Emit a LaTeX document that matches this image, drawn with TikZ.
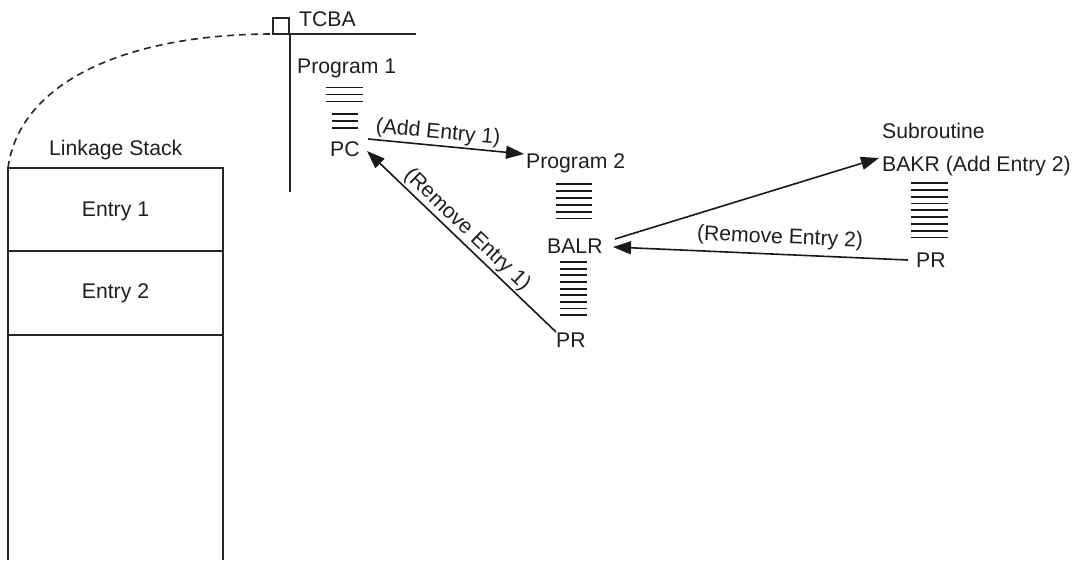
\documentclass[tikz,border=0pt]{standalone}
\usepackage{fontspec}
\setmainfont{Liberation Sans}
\usetikzlibrary{arrows.meta}
\begin{document}
\begin{tikzpicture}[x=1pt,y=-1pt,
  lbl/.style={inner sep=0pt, font=\fontsize{21.2}{24}\selectfont, text=black!88},
  lw/.style={anchor=base west},
  ln/.style={line width=1.8pt, draw=black!85},
  codeln/.style={line width=1.8pt, draw=black!90},
  arr/.style={line width=1.6pt, draw=black!90, -{Triangle[length=18pt,width=13pt]}},
  dsh/.style={line width=1.6pt, draw=black!85, dash pattern=on 7pt off 5pt},
]
\useasboundingbox (0,0) rectangle (1074,560);

% TCBA block
\draw[ln] (273,18) rectangle (289,34);
\draw[ln] (273,34) -- (416,34);
\draw[ln] (290,34) -- (290,192);
\node[lbl,lw] (tcba) at (299,26) {TCBA};

% dashed link to linkage stack
\coordinate (dstart) at (8,168);
\coordinate (dend) at (273,34);
\draw[dsh] (dstart) .. controls (20,80) and (130,34) .. (dend);

% linkage stack
\draw[ln] (8,560) -- (8,168) -- (223,168) -- (223,560);
\draw[ln] (8,251) -- (223,251);
\draw[ln] (8,335) -- (223,335);
\node[lbl,lw] (lstack) at (49,155) {Linkage Stack};
\node[lbl,anchor=base] (e1) at (115.5,216) {Entry 1};
\node[lbl,anchor=base] (e2) at (115.5,298.5) {Entry 2};

% Program 1
\node[lbl,lw] (p1) at (297,73) {Program 1};
\foreach \i in {0,1,2} \draw[codeln] (326,87.5+7*\i) -- (363,87.5+7*\i);
\foreach \i in {0,1,2} \draw[codeln] (332,114+7*\i) -- (358,114+7*\i);
\node[lbl,lw] (pc) at (330,156) {PC};

% Program 2
\node[lbl,lw] (p2) at (526,168) {Program 2};
\foreach \i in {0,...,5} \draw[codeln] (556,184+6.9*\i) -- (592,184+6.9*\i);
\node[lbl,lw] (balr) at (547,253) {BALR};
\foreach \i in {0,...,8} \draw[codeln] (560,262+6.65*\i) -- (587,262+6.65*\i);
\node[lbl,lw] (pr2) at (556,347.5) {PR};

% Subroutine
\node[lbl,lw] (sub) at (882,138.5) {Subroutine};
\node[lbl,lw] (bakr) at (882,171.5) {BAKR (Add Entry 2)};
\foreach \i in {0,...,8} \draw[codeln] (911,183+6.8*\i) -- (948,183+6.8*\i);
\node[lbl,lw] (prs) at (916,267) {PR};

% arrows
\coordinate (a1s) at (368,139);
\coordinate (a1e) at (524,154);
\coordinate (r1s) at (556,332);
\coordinate (r1e) at (367,151);
\coordinate (a2s) at (615,239);
\coordinate (a2e) at (879,158);
\coordinate (r2s) at (908,260);
\coordinate (r2e) at (613,247);

\draw[arr] (a1s) -- (a1e);
\draw[arr] (r1s) -- (r1e);
\draw[arr] (a2s) -- (a2e);
\draw[arr] (r2s) -- (r2e);

\node[lbl,rotate=-5.5] (l1) at (438,133) {(Add Entry 1)};
\node[lbl,rotate=-43.8] (l2) at (467,230) {(Remove Entry 1)};
\node[lbl,rotate=-2.5] (l3) at (780,238) {(Remove Entry 2)};
\end{tikzpicture}
\end{document}
